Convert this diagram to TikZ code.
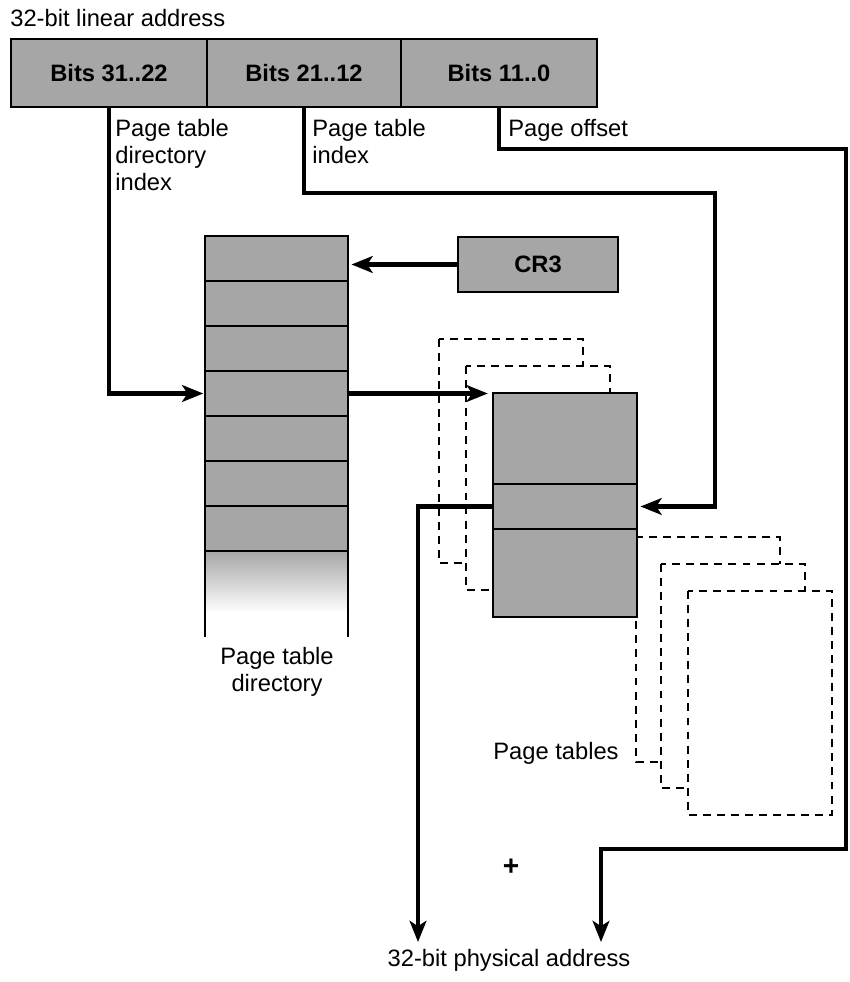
\documentclass[tikz,border=0pt]{standalone}
\usepackage{fontspec}
\setmainfont{Liberation Sans}
\usetikzlibrary{arrows.meta,positioning,calc}

\begin{document}
\begin{tikzpicture}[
    x=0.02cm, y=-0.02cm,
    >={Stealth[length=12pt,width=9.5pt,inset=3pt]},
    texto/.style={font=\fontsize{13.5}{15.5}\selectfont, inner sep=0pt},
    campo/.style={draw, line width=1.2pt, fill=black!35, inner sep=0pt, outer sep=0pt,
                  minimum height=1.36cm, font=\bfseries\fontsize{13.5}{15.5}\selectfont},
    entrada/.style={draw, line width=1.2pt, fill=black!35, inner sep=0pt, outer sep=0pt,
                    minimum width=2.86cm, minimum height=0.9cm},
    tabela/.style={draw, line width=1.2pt, fill=black!35, inner sep=0pt, outer sep=0pt,
                   minimum width=2.88cm},
    folha/.style={draw, dashed, dash pattern=on 4.5pt off 3.5pt, line width=1pt, fill=white},
    seta/.style={->, line width=2.5pt}
  ]
    % Moldura com as proporcoes da figura
    \useasboundingbox (0,0) rectangle (849,982);

    % Endereco linear de 32 bits
    \node[texto, anchor=west] (titulo) at (10,18) {32-bit linear address};
    \node[campo, minimum width=3.92cm] (f1) at (109,73) {Bits 31..22};
    \node[campo, minimum width=3.88cm] (f2) at (304,73) {Bits 21..12};
    \node[campo, minimum width=3.92cm] (f3) at (499,73) {Bits 11..0};

    \node[texto, anchor=north west, align=left] (rot1) at (115,119) {Page table\\directory\\index};
    \node[texto, anchor=north west, align=left] (rot2) at (312,119) {Page table\\index};
    \node[texto, anchor=north west] (rot3) at (508,119) {Page offset};

    % Diretorio de tabelas de paginas
    \node[entrada] (d1) at (276.5,258.5) {};
    \node[entrada] (d2) at (276.5,303.5) {};
    \node[entrada] (d3) at (276.5,348.5) {};
    \node[entrada] (d4) at (276.5,393.5) {};
    \node[entrada] (d5) at (276.5,438.5) {};
    \node[entrada] (d6) at (276.5,483.5) {};
    \node[entrada] (d7) at (276.5,528.5) {};
    \shade[top color=black!35, bottom color=white] (d7.south west) rectangle ($(d7.south east)+(0,62)$);
    \draw[line width=1.2pt] (d7.south west) -- (d7.south east);
    \draw[line width=1.2pt] (d7.south west) -- ++(0,86);
    \draw[line width=1.2pt] (d7.south east) -- ++(0,86);
    \node[texto, anchor=north, align=center] (rotdir) at (277,647) {Page table\\directory};

    % Registrador CR3
    \node[campo, minimum width=3.2cm, minimum height=1.1cm] (cr3) at (538,264.5) {CR3};

    % Tabelas de paginas (folhas tracejadas atras)
    \draw[folha] (439,339) rectangle (583,563);
    \draw[folha] (466,366) rectangle (610,590);
    \draw[folha] (636,537) rectangle (780,762);
    \draw[folha] (661,564) rectangle (805,788);
    \draw[folha] (688,591) rectangle (832,815);
    \node[tabela, minimum height=1.82cm] (pt1) at (565,438.5) {};
    \node[tabela, minimum height=0.9cm]  (pt2) at (565,506.5) {};
    \node[tabela, minimum height=1.76cm] (pt3) at (565,573) {};
    \node[texto, anchor=west] (rottab) at (493,753) {Page tables};

    % Pontos de dobra dos conectores
    \coordinate (volta)  at (715,193);
    \coordinate (desvio) at (846,149);
    \coordinate (soma)   at (601,849);
    \coordinate (saida1) at (418,942);
    \coordinate (saida2) at (601,942);

    % Conectores
    \draw[seta, shorten >=1pt] (f1.south) |- (d4.west);
    \draw[seta, shorten >=2pt] (f2.south) |- (volta) |- (pt2.east);
    \draw[seta] (f3.south) |- (desvio) |- (soma) -- (saida2);
    \draw[seta, shorten >=2pt] (cr3.west) -- (cr3.west -| d1.east);
    \draw[seta, shorten >=3pt] (d4.east) -- (d4.east -| pt1.west);
    \draw[seta] (pt2.west) -| (saida1);

    % Endereco fisico
    \node[texto, font=\bfseries\fontsize{16}{18}\selectfont] (mais) at (511,867) {+};
    \node[texto] (fisico) at (509,960) {32-bit physical address};
\end{tikzpicture}
\end{document}
